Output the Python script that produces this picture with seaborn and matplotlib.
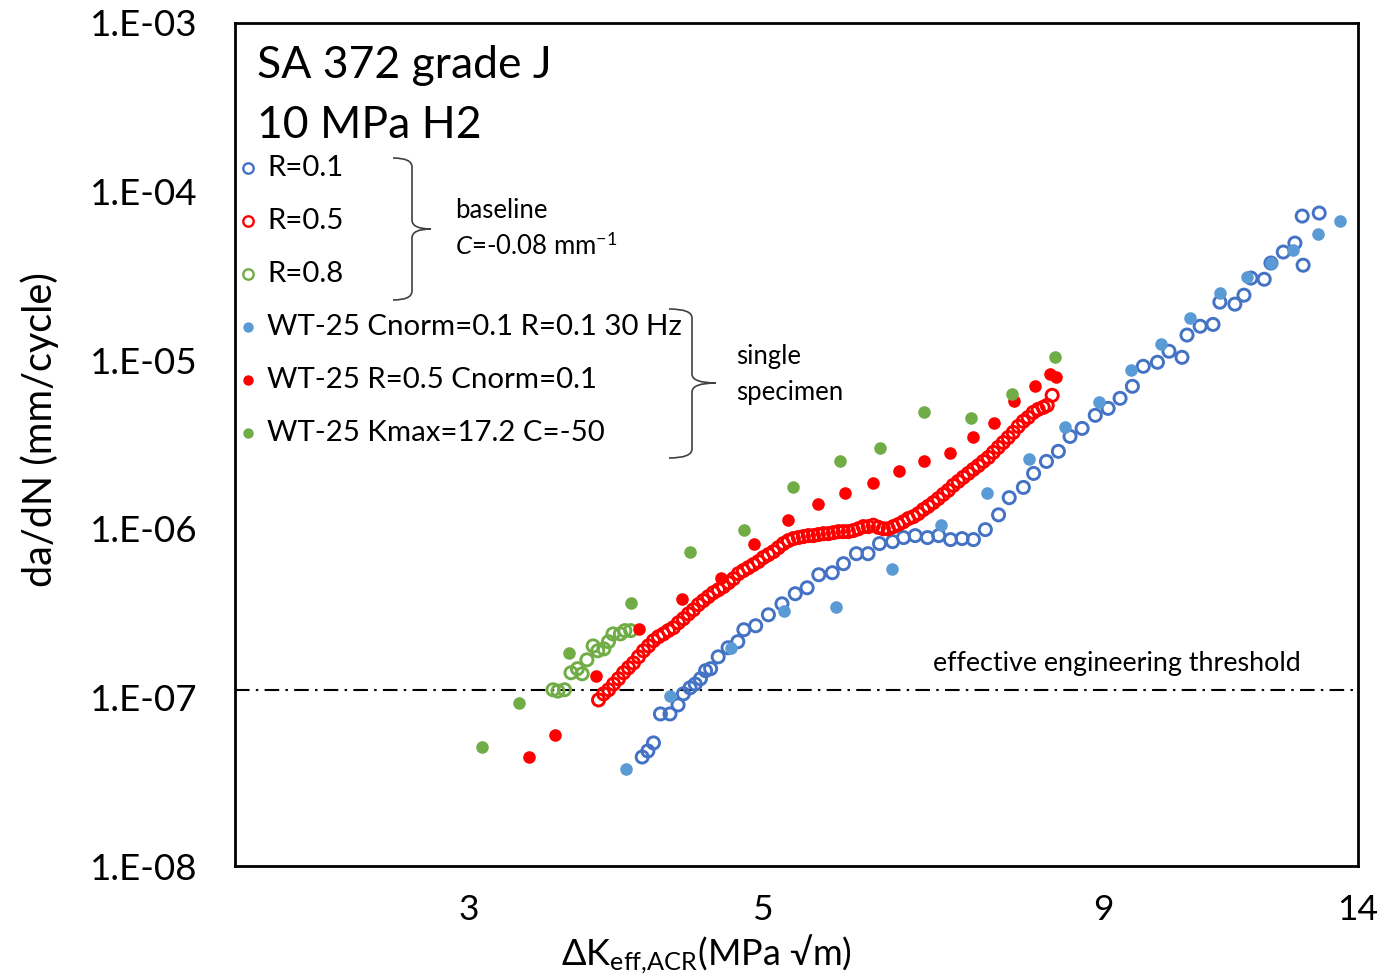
import matplotlib
matplotlib.use("Agg")
import matplotlib.pyplot as plt
import seaborn as sns
import numpy as np
from matplotlib.lines import Line2D
from matplotlib.path import Path
from matplotlib.patches import PathPatch
from matplotlib.ticker import FixedLocator, FixedFormatter, NullLocator

# ---------------- data ----------------
r01_x = [4.05, 4.09, 4.13, 4.18, 4.25, 4.31, 4.35, 4.40, 4.44, 4.48, 4.52, 4.56, 4.62, 4.70, 4.78,
         4.83, 4.93, 5.04, 5.16, 5.28, 5.39, 5.50, 5.63, 5.74, 5.87, 5.99, 6.11, 6.25, 6.37, 6.50,
         6.64, 6.77, 6.91, 7.05, 7.19, 7.34, 7.51, 7.65, 7.84, 7.98, 8.16, 8.33, 8.50, 8.68, 8.88,
         9.08, 9.27, 9.47, 9.65, 9.89, 10.09, 10.32, 10.41, 10.65, 10.89, 11.02, 11.31, 11.49,
         11.63, 11.90, 12.04, 12.30, 12.55, 12.73, 12.71, 13.09]
r01_y = [4.43e-8, 4.81e-8, 5.37e-8, 7.98e-8, 7.98e-8, 9.02e-8, 1.05e-7, 1.14e-7, 1.20e-7, 1.29e-7,
         1.44e-7, 1.48e-7, 1.74e-7, 1.97e-7, 2.14e-7, 2.52e-7, 2.66e-7, 3.09e-7, 3.59e-7, 4.12e-7,
         4.47e-7, 5.34e-7, 5.49e-7, 6.21e-7, 7.12e-7, 7.12e-7, 8.17e-7, 8.39e-7, 8.87e-7, 9.11e-7,
         8.87e-7, 9.11e-7, 8.63e-7, 8.75e-7, 8.63e-7, 9.89e-7, 1.21e-6, 1.53e-6, 1.76e-6, 2.13e-6,
         2.51e-6, 2.88e-6, 3.53e-6, 3.94e-6, 4.71e-6, 5.18e-6, 5.94e-6, 7.00e-6, 9.20e-6, 9.72e-6,
         1.13e-5, 1.04e-5, 1.41e-5, 1.59e-5, 1.63e-5, 2.21e-5, 2.15e-5, 2.43e-5, 3.07e-5, 3.02e-5,
         3.77e-5, 4.38e-5, 4.95e-5, 3.66e-5, 7.16e-5, 7.46e-5]

r05_x = [3.755, 3.788, 3.821, 3.854, 3.887, 3.921, 3.955, 3.989, 4.024, 4.059,
         4.094, 4.130, 4.166, 4.202, 4.238, 4.275, 4.312, 4.350, 4.388, 4.426,
         4.464, 4.503, 4.542, 4.582, 4.622, 4.662, 4.703, 4.744, 4.785, 4.826,
         4.868, 4.910, 4.953, 4.996, 5.040, 5.084, 5.128, 5.173, 5.218, 5.263,
         5.309, 5.355, 5.402, 5.449, 5.496, 5.544, 5.592, 5.641, 5.690, 5.739,
         5.789, 5.839, 5.890, 5.941, 5.993, 6.045, 6.098, 6.151, 6.204, 6.258,
         6.312, 6.367, 6.423, 6.479, 6.535, 6.592, 6.649, 6.707, 6.765, 6.824,
         6.883, 6.943, 7.003, 7.064, 7.126, 7.188, 7.251, 7.314, 7.378, 7.442,
         7.506, 7.571, 7.637, 7.703, 7.770, 7.838, 7.906, 7.975, 8.044, 8.114,
         8.170, 8.241]
r05_y = [9.66e-8, 1.05e-7, 1.11e-7, 1.20e-7, 1.29e-7, 1.40e-7, 1.50e-7, 1.60e-7, 1.74e-7, 1.89e-7,
         2.02e-7, 2.17e-7, 2.29e-7, 2.38e-7, 2.49e-7, 2.59e-7, 2.77e-7, 2.93e-7, 3.13e-7, 3.31e-7,
         3.55e-7, 3.75e-7, 3.96e-7, 4.18e-7, 4.35e-7, 4.54e-7, 4.79e-7, 5.06e-7, 5.42e-7, 5.65e-7,
         5.88e-7, 6.13e-7, 6.39e-7, 6.75e-7, 7.03e-7, 7.32e-7, 7.73e-7, 8.17e-7, 8.51e-7, 8.75e-7,
         8.87e-7, 8.99e-7, 9.11e-7, 9.11e-7, 9.24e-7, 9.36e-7, 9.36e-7, 9.49e-7, 9.62e-7, 9.62e-7,
         9.62e-7, 9.76e-7, 1.00e-6, 1.03e-6, 1.03e-6, 1.05e-6, 1.02e-6, 1.00e-6, 1.00e-6, 1.03e-6,
         1.06e-6, 1.10e-6, 1.15e-6, 1.18e-6, 1.23e-6, 1.30e-6, 1.36e-6, 1.43e-6, 1.51e-6, 1.60e-6,
         1.69e-6, 1.81e-6, 1.91e-6, 2.02e-6, 2.13e-6, 2.25e-6, 2.37e-6, 2.51e-6, 2.65e-6, 2.84e-6,
         3.04e-6, 3.25e-6, 3.48e-6, 3.73e-6, 4.05e-6, 4.34e-6, 4.58e-6, 4.90e-6, 5.11e-6, 5.25e-6,
         5.40e-6, 6.19e-6]

r08_x = [3.47, 3.50, 3.54, 3.58, 3.62, 3.65, 3.68, 3.72, 3.75, 3.79, 3.82, 3.85, 3.90, 3.93, 3.97]
r08_y = [1.11e-7, 1.09e-7, 1.11e-7, 1.40e-7, 1.48e-7, 1.38e-7, 1.67e-7, 2.02e-7, 1.89e-7, 1.94e-7,
         2.14e-7, 2.38e-7, 2.38e-7, 2.49e-7, 2.49e-7]

wt_r01_x = [3.94, 4.25, 4.72, 5.18, 5.67, 6.24, 6.80, 7.36, 7.92, 8.43, 8.94, 9.45, 9.95, 10.47,
            11.02, 11.55, 12.04, 12.51, 13.06, 13.57]
wt_r01_y = [3.76e-8, 1.02e-7, 1.97e-7, 3.27e-7, 3.45e-7, 5.80e-7, 1.06e-6, 1.62e-6, 2.58e-6, 3.99e-6,
            5.62e-6, 8.71e-6, 1.24e-5, 1.77e-5, 2.50e-5, 3.11e-5, 3.77e-5, 4.50e-5, 5.60e-5, 6.69e-5]

wt_r05_x = [3.33, 3.48, 3.74, 4.03, 4.34, 4.64, 4.92, 5.21, 5.49, 5.76, 6.04, 6.32, 6.60, 6.90,
            7.18, 7.45, 7.72, 8.00, 8.21, 8.30]
wt_r05_y = [4.43e-8, 5.99e-8, 1.34e-7, 2.55e-7, 3.85e-7, 5.13e-7, 8.17e-7, 1.13e-6, 1.41e-6, 1.62e-6,
            1.88e-6, 2.19e-6, 2.51e-6, 2.80e-6, 3.48e-6, 4.22e-6, 5.70e-6, 7.00e-6, 8.25e-6, 7.92e-6]

wt_kmax_x = [3.07, 3.27, 3.57, 3.97, 4.40, 4.83, 5.26, 5.71, 6.11, 6.60, 7.16, 7.69, 8.28]
wt_kmax_y = [5.05e-8, 9.21e-8, 1.84e-7, 3.64e-7, 7.32e-7, 9.89e-7, 1.76e-6, 2.54e-6, 3.00e-6,
             4.90e-6, 4.52e-6, 6.27e-6, 1.05e-5]

threshold = 1.1e-7

x_ticks = [3, 5, 9, 14]
x_tick_labels = ["3", "5", "9", "14"]
y_ticks = [1e-8, 1e-7, 1e-6, 1e-5, 1e-4, 1e-3]
y_tick_labels = ["1.E-08", "1.E-07", "1.E-06", "1.E-05", "1.E-04", "1.E-03"]

legend_labels = ["R=0.1", "R=0.5", "R=0.8", "WT-25 Cnorm=0.1 R=0.1 30 Hz",
                 "WT-25 R=0.5 Cnorm=0.1", "WT-25 Kmax=17.2 C=-50"]

# ---------------- style ----------------
sns.set_theme(style="white")
plt.rcParams["font.family"] = ["Lato", "DejaVu Sans"]
plt.rcParams["mathtext.fontset"] = "custom"
plt.rcParams["mathtext.rm"] = "Lato"
plt.rcParams["mathtext.it"] = "Lato:italic"
plt.rcParams["mathtext.fallback"] = "stixsans"
plt.rcParams["axes.unicode_minus"] = False

BLUE_O = "#4472C4"
BLUE_F = "#5B9BD5"
RED = "#FF0000"
GREEN = "#70AD47"

W, H = 1399, 980
fig = plt.figure(figsize=(W / 100, H / 100), dpi=100)
ax = fig.add_axes([235 / W, 1 - 866 / H, (1358 - 235) / W, (866 - 23) / H])


def fx(px):
    return px / W


def fy(py):
    return 1 - py / H


open_kw = dict(s=76, marker="o", facecolor="none", linewidth=2.1, legend=False, ax=ax)
fill_kw = dict(s=82, marker="o", linewidth=0, legend=False, ax=ax)

sns.scatterplot(x=r01_x, y=r01_y, edgecolor=BLUE_O, zorder=3, **open_kw)
sns.scatterplot(x=r05_x, y=r05_y, edgecolor=RED, zorder=3, **open_kw)
sns.scatterplot(x=r08_x, y=r08_y, edgecolor=GREEN, zorder=3, **open_kw)
sns.scatterplot(x=wt_r01_x, y=wt_r01_y, color=BLUE_F, zorder=4, **fill_kw)
sns.scatterplot(x=wt_r05_x, y=wt_r05_y, color=RED, zorder=4, **fill_kw)
sns.scatterplot(x=wt_kmax_x, y=wt_kmax_y, color=GREEN, zorder=4, **fill_kw)

ax.axhline(threshold, color="black", linewidth=1.5, dashes=(7, 3, 1.2, 3), zorder=2)

ax.set_xscale("log")
ax.set_yscale("log")
ax.set_xlim(2, 14)
ax.set_ylim(1e-8, 1e-3)
ax.xaxis.set_major_locator(FixedLocator(x_ticks))
ax.xaxis.set_major_formatter(FixedFormatter(x_tick_labels))
ax.xaxis.set_minor_locator(NullLocator())
ax.yaxis.set_major_locator(FixedLocator(y_ticks))
ax.yaxis.set_major_formatter(FixedFormatter(y_tick_labels))
ax.yaxis.set_minor_locator(NullLocator())
ax.tick_params(axis="x", direction="inout", length=9, width=1.2, color="black",
               labelsize=25.5, pad=16, labelcolor="black")
ax.tick_params(axis="y", direction="inout", length=6, width=1.2, color="black",
               labelsize=26.5, pad=24, labelcolor="black")
ax.set_xlabel("")
ax.set_ylabel("")
for sp in ax.spines.values():
    sp.set_visible(True)
    sp.set_color("black")
    sp.set_linewidth(2)
ax.grid(False)

# axis titles
fig.text(fx(40), fy(430), "da/dN (mm/cycle)", rotation=90, ha="center", va="center",
         fontsize=28.5, color="black")
fig.text(fx(706), fy(955), r"ΔK$_{\mathrm{eff{,}ACR}}$(MPa √m)", ha="center", va="center",
         fontsize=26, color="black")

# title block inside
fig.text(fx(257), fy(65), "SA 372 grade J", ha="left", va="center", fontsize=32, color="black")
fig.text(fx(257), fy(125), "10 MPa H2", ha="left", va="center", fontsize=32, color="black")

# legend (manual)
rows_y = [168, 221, 274, 327, 380, 433]
styles = [(BLUE_O, False), (RED, False), (GREEN, False), (BLUE_F, True), (RED, True), (GREEN, True)]
for lab, ry, (c, filled) in zip(legend_labels, rows_y, styles):
    if filled:
        m = Line2D([fx(248)], [fy(ry)], marker="o", markersize=7.5, markerfacecolor=c,
                   markeredgewidth=0, linestyle="none", transform=fig.transFigure)
    else:
        m = Line2D([fx(248)], [fy(ry)], marker="o", markersize=7.5, markerfacecolor="none",
                   markeredgecolor=c, markeredgewidth=1.7, linestyle="none",
                   transform=fig.transFigure)
    fig.add_artist(m)
    fig.text(fx(267), fy(ry), lab, ha="left", va="center", fontsize=21.2, color="black")


def brace(x0, xv, xt, ytop, ymid, ybot):
    pts = [(x0, ytop), (xv, ytop), (xv, ytop + 9),
           (xv, ymid - 9), (xv, ymid), (xt, ymid),
           (xv, ymid), (xv, ymid + 9),
           (xv, ybot - 9), (xv, ybot), (x0, ybot)]
    codes = [Path.MOVETO, Path.CURVE3, Path.CURVE3,
             Path.LINETO, Path.CURVE3, Path.CURVE3,
             Path.CURVE3, Path.CURVE3,
             Path.LINETO, Path.CURVE3, Path.CURVE3]
    verts = [(fx(a), fy(b)) for a, b in pts]
    patch = PathPatch(Path(verts, codes), facecolor="none", edgecolor="#404040",
                      linewidth=1.2, transform=fig.transFigure)
    fig.add_artist(patch)


brace(393, 412, 431, 158, 229, 300)
brace(669, 692, 716, 309, 383, 458)

fig.text(fx(455), fy(211), "baseline", ha="left", va="center", fontsize=18.5, color="black")
fig.text(fx(455), fy(246), r"$\mathit{C}$=-0.08 mm$^{\mathrm{-1}}$", ha="left", va="center",
         fontsize=18.5, color="black")
fig.text(fx(736), fy(356), "single", ha="left", va="center", fontsize=18.5, color="black")
fig.text(fx(736), fy(392), "specimen", ha="left", va="center", fontsize=18.5, color="black")
fig.text(fx(933), fy(663), "effective engineering threshold", ha="left", va="center",
         fontsize=19.4, color="black")

fig.savefig("out.png", dpi=100, facecolor="white")
